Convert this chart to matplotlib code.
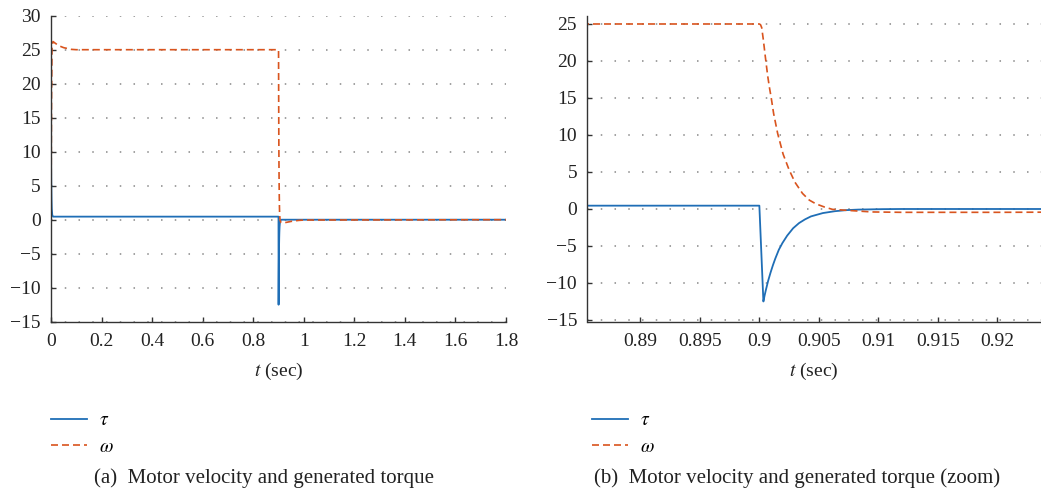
import matplotlib
matplotlib.use("Agg")
import matplotlib.pyplot as plt
from matplotlib.lines import Line2D

plt.rcParams["font.family"] = ["Liberation Serif", "DejaVu Serif"]
plt.rcParams["mathtext.fontset"] = "stix"
plt.rcParams["axes.unicode_minus"] = True

# torque tau
t_tau = [0, 0.001, 0.002, 0.003, 0.005, 0.008, 0.9, 0.90034, 0.90044,
         0.90054, 0.90074, 0.90094, 0.90114, 0.90134, 0.90164, 0.90194,
         0.90234, 0.90284, 0.90334, 0.90384, 0.90434, 0.90534, 0.90634,
         0.90734, 0.90834, 0.91034, 0.912, 1.8]
tau = [10, 5.5, 3.0, 1.6, 0.7, 0.45, 0.45, -12.5, -11.7,
       -11.0, -9.7, -8.6, -7.6, -6.7, -5.5, -4.6,
       -3.6, -2.6, -1.9, -1.4, -1.0, -0.55, -0.3,
       -0.15, -0.08, -0.02, 0, 0]

# motor velocity omega
t_omega = [0, 0.002, 0.004, 0.008, 0.015, 0.03, 0.05, 0.08, 0.1, 0.9,
           0.9001, 0.9002, 0.90034, 0.9005, 0.9007, 0.90084, 0.901, 0.9012,
           0.90154, 0.902, 0.9025, 0.903, 0.90363, 0.9042, 0.90475, 0.9055,
           0.90615, 0.90754, 0.9095, 0.912, 0.92, 0.93, 0.95, 0.98, 1.0, 1.8]
omega = [0, 18, 25.5, 26.2, 26.0, 25.6, 25.3, 25.05, 25, 25,
         24.9, 24.5, 22.8, 20.6, 18.0, 16.5, 15.0, 12.9,
         10.2, 7.4, 5.3, 3.6, 2.1, 1.2, 0.7, 0.25,
         -0.05, -0.2, -0.4, -0.45, -0.45, -0.4, -0.25, -0.1, -0.05, 0]

xticks_a = [0, 0.2, 0.4, 0.6, 0.8, 1, 1.2, 1.4, 1.6, 1.8]
xlabels_a = ["0", "0.2", "0.4", "0.6", "0.8", "1", "1.2", "1.4", "1.6", "1.8"]
yticks_a = [-15, -10, -5, 0, 5, 10, 15, 20, 25, 30]
xticks_b = [0.89, 0.895, 0.9, 0.905, 0.91, 0.915, 0.92]
xlabels_b = ["0.89", "0.895", "0.9", "0.905", "0.91", "0.915", "0.92"]
yticks_b = [-15, -10, -5, 0, 5, 10, 15, 20, 25]

captions = ["(a)  Motor velocity and generated torque",
            "(b)  Motor velocity and generated torque (zoom)"]

BLUE = "#1f6eb6"
ORANGE = "#d9541e"
DASH = (4.2, 2.4)
W, H = 1041, 493

fig = plt.figure(figsize=(W / 100, H / 100), dpi=100)
ax_a = fig.add_axes([51 / W, (H - 321.7) / H, 455 / W, 306 / H])
ax_b = fig.add_axes([587.5 / W, (H - 321.7) / H, 453 / W, 306 / H])


def style(ax):
    for side in ["top", "right"]:
        ax.spines[side].set_visible(False)
    for side in ["left", "bottom"]:
        ax.spines[side].set_color("#333333")
        ax.spines[side].set_linewidth(1.0)
    ax.tick_params(direction="in", length=3.5, width=1, color="#333333",
                   labelsize=14, labelcolor="#222222")
    ax.tick_params(axis="y", pad=7.5)
    ax.tick_params(axis="x", pad=8)
    ax.yaxis.grid(True, linestyle=(0, (1, 8)), color="#888888", linewidth=1.1)
    ax.set_axisbelow(True)
    ax.set_xlabel("$t$ (sec)", fontsize=14, labelpad=8, color="#222222")


for ax in [ax_a, ax_b]:
    ax.plot(t_tau, tau, color=BLUE, lw=1.3, label=r"$\tau$")
    ax.plot(t_omega, omega, color=ORANGE, lw=1.2, ls="--", dashes=DASH,
            label=r"$\omega$")
    style(ax)

ax_a.set_xlim(0, 1.8)
ax_a.set_ylim(-15, 30)
ax_a.set_xticks(xticks_a, xlabels_a)
ax_a.set_yticks(yticks_a)

ax_b.set_xlim(0.88555, 0.92364)
ax_b.set_ylim(-15.23, 26.12)
ax_b.set_xticks(xticks_b, xlabels_b)
ax_b.set_yticks(yticks_b)

handles = [Line2D([], [], color=BLUE, lw=1.3),
           Line2D([], [], color=ORANGE, lw=1.2, ls="--", dashes=DASH)]
for x0, cap_x, cap in [(43, 264.5, captions[0]), (584, 797.5, captions[1])]:
    fig.legend(handles, [r"$\tau$", r"$\omega$"], loc="upper left",
               bbox_to_anchor=(x0 / W, 1 - 404 / H), frameon=False,
               fontsize=14, handlelength=1.85, handletextpad=0.65,
               labelspacing=0.45, borderaxespad=0)
    fig.text(cap_x / W, 1 - 478 / H, cap, ha="center", va="center",
             fontsize=15, color="#222222")

fig.savefig("out.png", dpi=100)
